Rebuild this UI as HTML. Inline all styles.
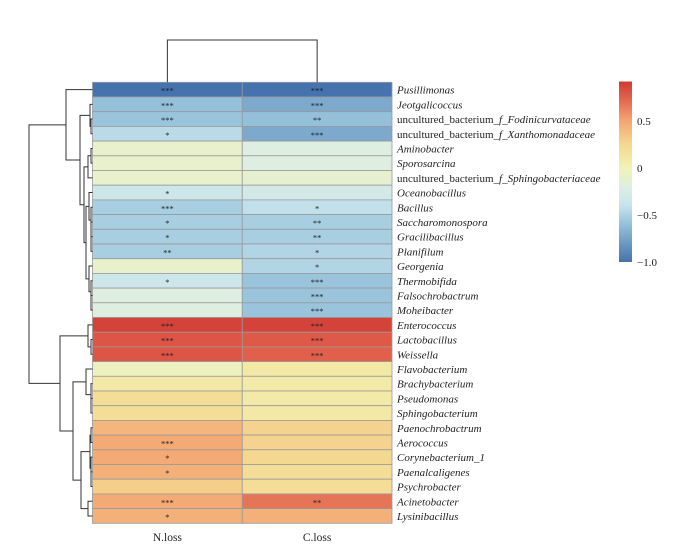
<!DOCTYPE html>
<html><head><meta charset="utf-8"><style>
body{margin:0;background:#fff}
svg{display:block;font-family:"Liberation Serif",serif}
</style></head><body>
<svg id="chart" width="700" height="554" viewBox="0 0 700 554"></svg>
<script>
const taxa=["Pusillimonas","Jeotgalicoccus","uncultured_bacterium_f_Fodinicurvataceae","uncultured_bacterium_f_Xanthomonadaceae","Aminobacter","Sporosarcina","uncultured_bacterium_f_Sphingobacteriaceae","Oceanobacillus","Bacillus","Saccharomonospora","Gracilibacillus","Planifilum","Georgenia","Thermobifida","Falsochrobactrum","Moheibacter","Enterococcus","Lactobacillus","Weissella","Flavobacterium","Brachybacterium","Pseudomonas","Sphingobacterium","Paenochrobactrum","Aerococcus","Corynebacterium_1","Paenalcaligenes","Psychrobacter","Acinetobacter","Lysinibacillus"];
const columns=["N.loss","C.loss"];
const nLoss=[-1.0,-0.6,-0.58,-0.45,-0.1,-0.1,-0.1,-0.35,-0.52,-0.52,-0.52,-0.52,-0.1,-0.35,-0.2,-0.2,0.88,0.8,0.8,-0.05,0.1,0.2,0.2,0.42,0.48,0.48,0.45,0.3,0.48,0.45];
const cLoss=[-1.0,-0.72,-0.6,-0.72,-0.2,-0.2,-0.12,-0.3,-0.42,-0.52,-0.52,-0.48,-0.48,-0.58,-0.58,-0.58,0.88,0.78,0.75,0.1,0.08,0.08,0.1,0.28,0.28,0.25,0.2,0.2,0.68,0.45];
const nStars=["***","***","***","*","","","","*","***","*","*","**","","*","","","***","***","***","","","","","","***","*","*","","***","*"];
const cStars=["***","***","**","***","","","","","*","**","**","*","*","***","***","***","***","***","***","","","","","","","","","","**",""];
const cbTicks=[0.5,0,-0.5,-1.0];
const cbLabels=["0.5","0","\u22120.5","\u22121.0"];

const NS="http://www.w3.org/2000/svg";
const svg=document.getElementById('chart');
function mk(t,a,p){const e=document.createElementNS(NS,t);for(const k in a)e.setAttribute(k,a[k]);(p||svg).appendChild(e);return e;}
const stops=[[-1,[70,114,173]],[-0.6,[148,192,218]],[-0.4,[198,227,236]],[-0.2,[222,239,226]],[0,[242,242,180]],[0.25,[245,216,144]],[0.5,[244,166,115]],[0.75,[225,96,76]],[0.92,[207,58,51]]];
function color(v){v=Math.max(-1,Math.min(0.92,v));for(let i=0;i<stops.length-1;i++){const a=stops[i],b=stops[i+1];if(v<=b[0]){const t=(v-a[0])/(b[0]-a[0]);return 'rgb('+a[1].map((c,j)=>Math.round(c+(b[1][j]-c)*t)).join(',')+')';}}return 'rgb(207,58,51)';}
const X0=92.5,CW=149.75,Y0=82.3,RH=14.7;
const rowY=i=>Y0+i*RH;
const colX=j=>X0+j*CW;
const series=[nLoss,cLoss],stars=[nStars,cStars];
const g=mk('g',{});

taxa.forEach((t,i)=>{
  series.forEach((s,j)=>{
    const r=mk('rect',{x:colX(j),y:rowY(i),width:CW,height:RH,fill:color(s[i]),stroke:'#9a9a9a','stroke-width':0.8},g);
    
    
    if(stars[j][i]){const st=mk('text',{x:colX(j)+CW/2,y:rowY(i)+RH/2+4,'text-anchor':'middle','font-size':8.5,fill:'#222'},g);st.textContent=stars[j][i];
      }
  });
  const lb=mk('text',{x:397,y:rowY(i)+RH/2+4,'font-size':11,fill:'#222'});
  
  const m=t.match(/^uncultured_bacterium_f_(.*)$/);
  if(m){lb.textContent='uncultured_bacterium_';const ts=mk('tspan',{'font-style':'italic'},lb);ts.textContent='f_'+m[1];}
  else{lb.setAttribute('font-style','italic');lb.textContent=t;}
});
columns.forEach((c,j)=>{const t=mk('text',{x:colX(j)+CW/2,y:541,'text-anchor':'middle','font-size':11.5,fill:'#222'});t.textContent=c;
  });
const cd=mk('path',{d:`M${colX(0)+CW/2} ${Y0}V40H${colX(1)+CW/2}V${Y0}`,fill:'none',stroke:'#333','stroke-width':1});

const tree=[29,[66,0,[80,[90,1,[91,2,3]],[84,[88,[91,4,5],6],[86,[89,7,[91,8,[91,9,[91,10,11]]]],[89,12,[91,13,[91,14,15]]]]]]],[60,[88,16,[91,17,18]],[73,[86,19,[91,20,[91,21,22]]],[81,[90,[91,23,24],[91,25,[91,26,27]]],[88,28,29]]]]];
let dpath='';
function walk(n){if(typeof n==='number')return{x:X0,y:rowY(n)+RH/2};const a=walk(n[1]),b=walk(n[2]);const x=n[0];
  dpath+=`M${a.x} ${a.y}H${x}V${b.y}H${b.x}`;return{x:x,y:(a.y+b.y)/2};}
walk(tree);
const rd=mk('path',{d:dpath,fill:'none',stroke:'#333','stroke-width':1});

const cbY=v=>168-v*94;
const defs=mk('defs',{});const lg=mk('linearGradient',{id:'cb',x1:0,y1:1,x2:0,y2:0},defs);
stops.forEach(s=>{mk('stop',{offset:((s[0]+1)/1.92),'stop-color':color(s[0])},lg);});
const cb=mk('rect',{x:619,y:cbY(0.92),width:13,height:cbY(-1)-cbY(0.92),fill:'url(#cb)'});

cbTicks.forEach((v,i)=>{const t=mk('text',{x:637,y:cbY(v)+4,'font-size':11,fill:'#222'});t.textContent=cbLabels[i];
  });
</script>
</body></html>
